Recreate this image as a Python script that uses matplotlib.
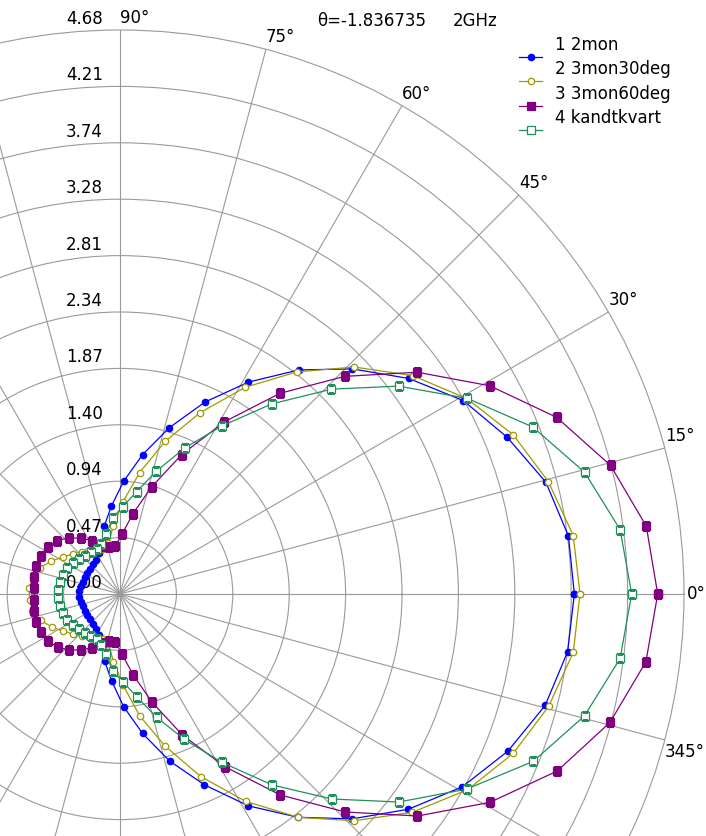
import numpy as np
import matplotlib
matplotlib.use('Agg')
from matplotlib import pyplot as plt
from matplotlib.lines import Line2D

# azimuth of each sample: 49 equal steps round the circle
phi_deg = np.arange(49) * 360.0 / 49

series_names = ['1 2mon', '2 3mon30deg', '3 3mon60deg', '4 kandtkvart']

r_2mon = [3.770, 3.752, 3.654, 3.466, 3.270, 2.990, 2.685, 2.378, 2.056,
          1.742, 1.440, 1.171, 0.935, 0.735, 0.582, 0.440, 0.382, 0.349,
          0.332, 0.324, 0.324, 0.320, 0.324, 0.332, 0.344,
          0.344, 0.332, 0.324, 0.322, 0.324, 0.326, 0.334, 0.350, 0.384,
          0.442, 0.572, 0.723, 0.935, 1.172, 1.445, 1.732, 2.056, 2.370,
          2.682, 2.986, 3.260, 3.473, 3.647, 3.745]
r_3mon30 = [3.817, 3.792, 3.675, 3.520, 3.304, 3.030, 2.707, 2.358, 2.006,
            1.647, 1.322, 1.021, 0.765, 0.570, 0.430, 0.400, 0.415, 0.440,
            0.473, 0.515, 0.564, 0.631, 0.697, 0.739, 0.755,
            0.752, 0.740, 0.695, 0.628, 0.566, 0.512, 0.470, 0.438, 0.412,
            0.398, 0.425, 0.565, 0.755, 1.024, 1.317, 1.657, 2.012, 2.370,
            2.705, 3.028, 3.310, 3.521, 3.677, 3.792]
r_3mon60 = [4.462, 4.403, 4.208, 3.908, 3.521, 3.077, 2.596, 2.130, 1.671,
            1.265, 0.929, 0.676, 0.495, 0.397, 0.400, 0.427, 0.500, 0.564,
            0.630, 0.683, 0.717, 0.730, 0.733, 0.724, 0.713,
            0.713, 0.726, 0.735, 0.728, 0.715, 0.680, 0.628, 0.566, 0.502,
            0.430, 0.402, 0.400, 0.498, 0.679, 0.937, 1.280, 1.674, 2.133,
            2.600, 3.080, 3.523, 3.914, 4.203, 4.400]
r_kandt = [4.246, 4.184, 3.985, 3.694, 3.308, 2.884, 2.443, 2.017, 1.630,
           1.325, 1.064, 0.859, 0.725, 0.636, 0.510, 0.445, 0.420, 0.420,
           0.430, 0.450, 0.470, 0.490, 0.500, 0.510, 0.515,
           0.515, 0.508, 0.500, 0.488, 0.468, 0.452, 0.432, 0.422, 0.420,
           0.447, 0.512, 0.643, 0.728, 0.862, 1.066, 1.320, 1.635, 2.027,
           2.445, 2.886, 3.300, 3.700, 3.985, 4.184]

r_step = 0.468
n_rings = 10
# angle labels that fall inside the window
angle_labels = [0, 15, 30, 45, 60, 75, 90, 345]
theta_label = 'θ=-1.836735'
freq_label = '2GHz'

# (colour, marker, filled, marker size)
styles = [('#0000ff', 'o', True, 4.6),
          ('#a09a00', 'o', False, 4.6),
          ('#800080', 's', True, 5.6),
          ('#20905a', 's', False, 5.4)]

W, H = 706.0, 836.0
cx, cy, rad = 120.0, 594.0, 564.0
grid_c = '#9a9a9a'

fig = plt.figure(figsize=(W / 100, H / 100), dpi=100)
ax = fig.add_axes([(cx - rad) / W, (H - cy - rad) / H, 2 * rad / W, 2 * rad / H],
                  projection='polar')
ax.set_ylim(0, r_step * n_rings)
ax.set_xticks(np.deg2rad(np.arange(0, 360, 15)))
ax.set_yticks(np.arange(1, n_rings) * r_step)
ax.set_xticklabels([])
ax.set_yticklabels([])
ax.grid(True, color=grid_c, lw=0.8)
ax.spines['polar'].set_color(grid_c)
ax.spines['polar'].set_linewidth(0.8)

phi = np.deg2rad(np.append(phi_deg, phi_deg[0]))
for vals, (c, m, filled, ms) in zip([r_2mon, r_3mon30, r_3mon60, r_kandt], styles):
    r = np.append(vals, vals[0])
    ax.plot(phi, r, color=c, lw=0.9, marker=m, ms=ms,
            mfc=c if filled else 'white', mec=c, mew=0.9, zorder=3)

# radial scale along the 90 deg spoke
for i in range(n_rings + 1):
    v = i * r_step
    ax.annotate('%.2f' % v, xy=(np.pi / 2, v), xytext=(-17, 11),
                textcoords='offset pixels', ha='right', va='center',
                fontsize=12, zorder=2)

# angle labels just outside the outer ring
for a in angle_labels:
    if a == 0:
        off = (3, 0)
    elif a <= 90:
        off = (0, 12)
    else:
        off = (0, -12)
    ax.annotate('%d°' % a, xy=(np.deg2rad(a), r_step * n_rings), xytext=off,
                textcoords='offset pixels', ha='left', va='center', fontsize=12,
                annotation_clip=False)

fig.text(317 / W, 1 - 21 / H, theta_label, ha='left', va='center', fontsize=12)
fig.text(453 / W, 1 - 21 / H, freq_label, ha='left', va='center', fontsize=12)

# legend: name with the sample line drawn a bit below it
for i, (name, (c, m, filled, ms)) in enumerate(zip(series_names, styles)):
    ty = 45 + 24.3 * i
    sy = ty + 12
    fig.text(555 / W, 1 - ty / H, name, ha='left', va='center', fontsize=12)
    fig.add_artist(Line2D([519 / W, 542 / W], [1 - sy / H] * 2, color=c, lw=0.9))
    fig.add_artist(Line2D([530.5 / W], [1 - sy / H], color=c, marker=m, ms=ms,
                          mfc=c if filled else 'white', mec=c, mew=0.9))

fig.savefig('out.png', dpi=100)
